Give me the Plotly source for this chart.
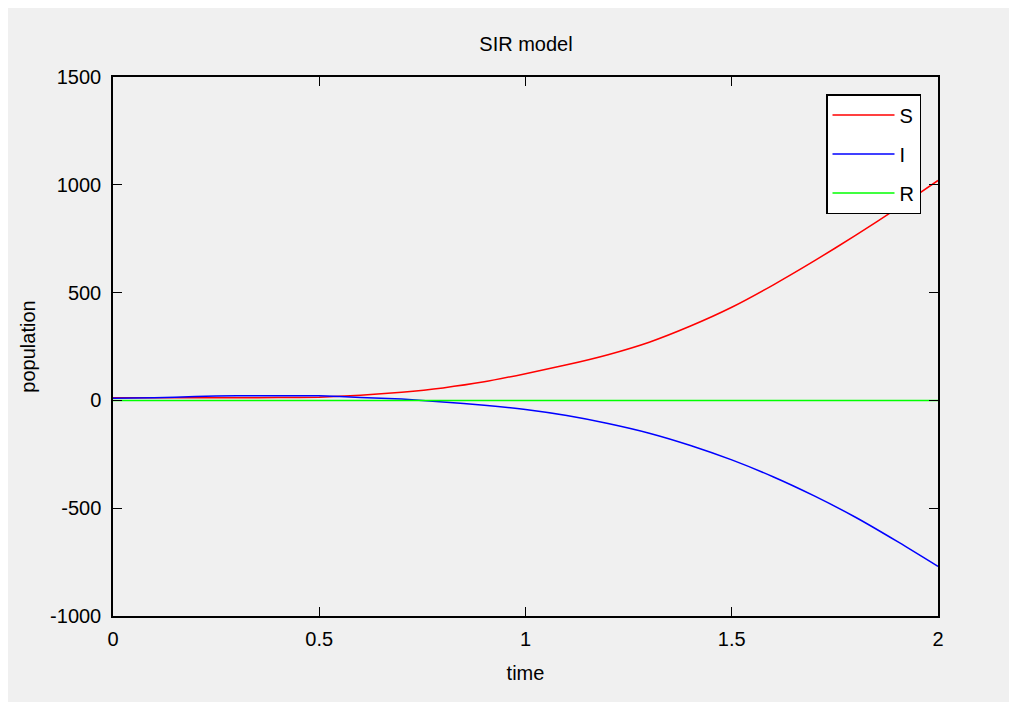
import plotly.graph_objects as go

time = [0.0, 0.1, 0.2, 0.3, 0.4, 0.5, 0.6, 0.7, 0.8, 0.9, 1.0,
        1.1, 1.2, 1.3, 1.4, 1.5, 1.6, 1.7, 1.8, 1.9, 2.0]
S = [12, 12, 12, 12, 13, 15, 24, 38, 58, 86, 124,
     165, 212, 270, 345, 432, 535, 647, 765, 890, 1020]
I = [10, 12, 18, 22, 22, 21, 14, 6, -7, -22, -42,
     -70, -107, -152, -209, -276, -354, -443, -542, -653, -770]
R = [0] * len(time)

x_ticks = [0, 0.5, 1, 1.5, 2]
x_tick_labels = ["0", "0.5", "1", "1.5", "2"]
y_ticks = [-1000, -500, 0, 500, 1000, 1500]
y_tick_labels = ["-1000", "-500", "0", "500", "1000", "1500"]

FONT = "Liberation Sans, Arial, Helvetica, sans-serif"

fig = go.Figure()
for name, vals, color in [("S", S, "#ff0000"), ("I", I, "#0000ff"), ("R", R, "#00ff00")]:
    fig.add_trace(go.Scatter(x=time, y=vals, mode="lines", name=name,
                             legendgroup=name,
                             line=dict(color=color, width=1.5, shape="spline", smoothing=0.5)))

axis_common = dict(showline=True, linecolor="black", linewidth=1.5, mirror="ticks",
                   ticks="inside", ticklen=9, tickwidth=1.2, tickcolor="black",
                   showgrid=False, zeroline=False,
                   tickfont=dict(family=FONT, size=20, color="black"))

# page body adds an 8px offset; plot area targeted at x 113-938, y 77-616 on screen
fig.update_layout(
    width=1017, height=702,
    margin=dict(l=105, r=87, t=69, b=94),
    paper_bgcolor="white",
    plot_bgcolor="white",
    title=dict(text="SIR model", x=(526 - 113) / 825, xref="paper", xanchor="center",
               y=(702 - 36) / 702, yanchor="middle",
               font=dict(family=FONT, size=20, color="black")),
    xaxis=dict(range=[0, 2], tickvals=x_ticks, ticktext=x_tick_labels,
               ticklabelstandoff=4,
               title=dict(text="time", font=dict(family=FONT, size=20, color="black"), standoff=17),
               **axis_common),
    yaxis=dict(range=[-1000, 1500], tickvals=y_ticks, ticktext=y_tick_labels,
               ticklabelstandoff=6,
               title=dict(text="population", font=dict(family=FONT, size=20, color="black"), standoff=9),
               **axis_common),
    legend=dict(x=(921 - 113) / 825, xanchor="right", y=(616 - 94) / 539, yanchor="top",
                bgcolor="white", bordercolor="black", borderwidth=1.5,
                font=dict(family=FONT, size=20, color="black"),
                tracegroupgap=10, itemwidth=62),
    showlegend=True,
    shapes=[dict(type="rect", xref="paper", yref="paper", layer="below",
                 x0=(4 - 113) / 825, x1=(1040 - 113) / 825,
                 y0=(616 - 730) / 539, y1=(616 - 7) / 539,
                 fillcolor="#f0f0f0", line=dict(width=0))],
)

fig.write_html("out.html")
